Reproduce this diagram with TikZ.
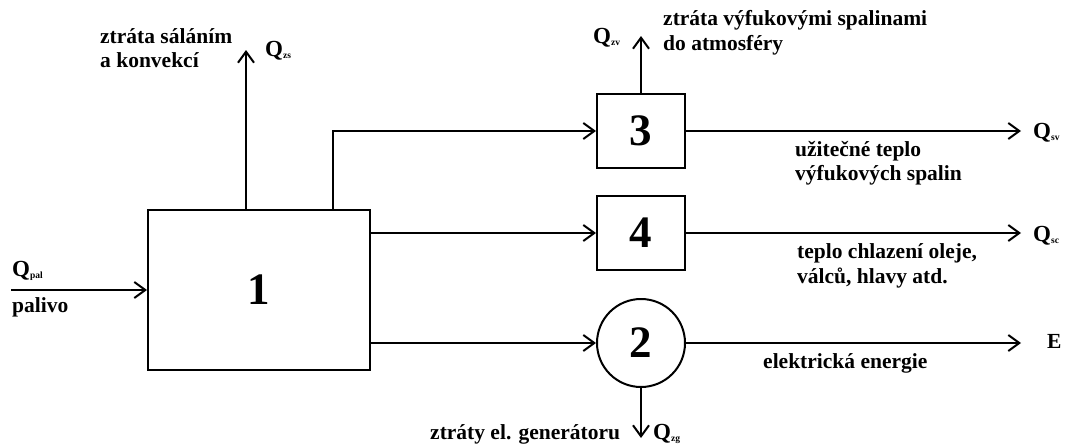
\documentclass[tikz,border=0pt]{standalone}
\usepackage{fontspec}
\setmainfont{Liberation Serif}
\usetikzlibrary{arrows.meta}
\newcommand{\lbf}{\fontsize{21.5}{24.5}\selectfont\bfseries}
\newcommand{\Qs}[1]{{\fontsize{23}{23}\selectfont Q}\raisebox{-2.5pt}{\fontsize{9.5}{9.5}\selectfont #1}}
\begin{document}
\begin{tikzpicture}[x=1pt,y=-1pt,
  blk/.style={draw,line width=2pt,inner sep=0pt,font=\fontsize{45}{45}\selectfont\bfseries},
  flow/.style={line width=2pt,-{Straight Barb[length=11pt,width=16pt,line width=2pt]}},
  lbl/.style={anchor=base west,inner sep=0pt,font=\lbf,align=left}]
\useasboundingbox (0,0) rectangle (1067,447);
% blocks
\node[blk,minimum width=222pt,minimum height=160pt] (b1) at (259,290) {1};
\node[blk,minimum width=88pt,minimum height=74pt] (b3) at (641,131) {3};
\node[blk,minimum width=88pt,minimum height=74pt] (b4) at (641,233) {4};
\node[blk,circle,minimum size=88pt] (g2) at (641,343) {2};
% coordinates
\coordinate (pin) at (11,290);
\coordinate (qzs) at (246,50);
\coordinate (k3) at (333,131);
\coordinate (qzv) at (641,36);
\coordinate (qsv) at (1021,131);
\coordinate (qsc) at (1021,233);
\coordinate (qe) at (1021,343);
\coordinate (qzg) at (641,438);
% connectors
\draw[flow] (pin) -- (b1.west);
\draw[flow] (b1.north -| qzs) -- (qzs);
\draw[flow] (b1.north -| k3) |- (b3.west);
\draw[flow] (b1.east |- b4.west) -- (b4.west);
\draw[flow] (b1.east |- g2.west) -- (g2.west);
\draw[flow] (b3.north) -- (qzv);
\draw[flow] (b3.east) -- (qsv);
\draw[flow] (b4.east) -- (qsc);
\draw[flow] (g2.east) -- (qe);
\draw[flow] (g2.south) -- (qzg);
% labels (base = baseline of last line)
\node[lbl] (l1) at (100,67.5) {ztráta sáláním\\a konvekcí};
\node[lbl] (l2) at (265,56) {\Qs{zs}};
\node[lbl] (l3) at (593,43) {\Qs{zv}};
\node[lbl] (l4) at (663,50) {ztráta výfukovými spalinami\\do atmosféry};
\node[lbl] (l5) at (795,180.5) {užitečné teplo\\výfukových spalin};
\node[lbl] (l6) at (1033,138) {\Qs{sv}};
\node[lbl] (l7) at (797,283) {teplo chlazení oleje,\\válců, hlavy atd.};
\node[lbl] (l8) at (1033,241) {\Qs{sc}};
\node[lbl] (l9) at (1047,348) {E};
\node[lbl] (l10) at (763,368) {elektrická energie};
\node[lbl] (l11) at (430,439) {ztráty el. generátoru};
\node[lbl] (l12) at (653,439) {\Qs{zg}};
\node[lbl] (l13) at (12,276) {\Qs{pal}};
\node[lbl] (l14) at (12,312) {palivo};
\end{tikzpicture}
\end{document}
